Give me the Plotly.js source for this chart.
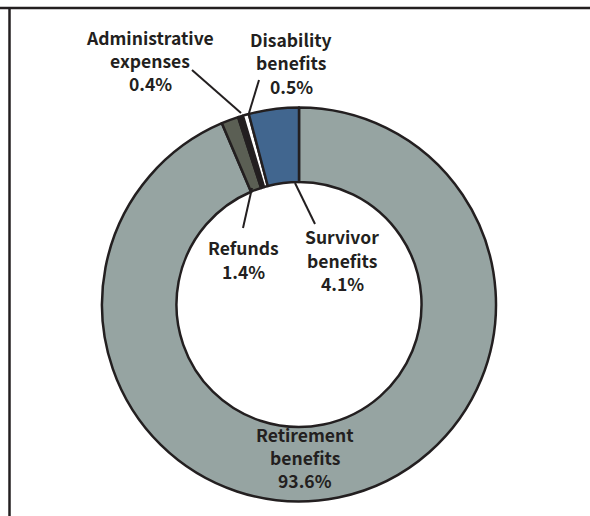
<!DOCTYPE html>
<html>
<head>
<meta charset="utf-8">
<script src="https://cdn.plot.ly/plotly-3.0.1.min.js"></script>
<style>html,body{margin:0;padding:0;background:#fff;}#chart{width:590px;height:516px;}</style>
</head>
<body>
<div id="chart"></div>
<script>
// Data (clockwise from 12 o'clock)
const categories = ["Retirement benefits", "Refunds", "Administrative expenses", "Disability benefits", "Survivor benefits"];
const labelLines = [["Retirement", "benefits"], ["Refunds"], ["Administrative", "expenses"], ["Disability", "benefits"], ["Survivor", "benefits"]];
const shares = [93.6, 1.4, 0.4, 0.5, 4.1];
const sliceColors = ["#96a4a2", "#5b5f54", "#231f20", "#ffffff", "#41668f"];

// Label positions (pixels: center x, first line y) and leader lines
const W = 590, H = 516;
const labelPos = [[305, 434], [243, 248], [150, 37], [291, 39.5], [342, 237]];
const lineStep = 23.3;
const leaders = [null, [[252, 188], [243, 228]], [[192, 70], [241, 113]], [[259, 80], [249, 113]], [[295, 183], [315, 224]]];

const px = x => x / W;
const py = y => 1 - y / H;

const trace = {
  type: "pie",
  labels: categories,
  values: shares,
  sort: false,
  direction: "clockwise",
  rotation: 0,
  hole: 0.622,
  textinfo: "none",
  hoverinfo: "none",
  marker: { colors: sliceColors, line: { color: "#231f20", width: 2.5 } },
  domain: { x: [px(299 - 197), px(299 + 197)], y: [py(502), py(107)] },
  showlegend: false
};

const annotations = [];
categories.forEach((c, i) => {
  const lines = labelLines[i].concat([shares[i].toFixed(1) + "%"]);
  lines.forEach((t, j) => {
    annotations.push({
      xref: "paper", yref: "paper",
      x: px(labelPos[i][0]), y: py(labelPos[i][1] + j * lineStep),
      xanchor: "center", yanchor: "middle",
      showarrow: false,
      text: "<b>" + t + "</b>",
      font: { family: "Noto Sans CJK SC, Noto Sans, sans-serif", size: 17.5, color: "#231f20" },
      align: "center"
    });
  });
});

const shapes = [
  { type: "line", xref: "paper", yref: "paper", x0: px(0), x1: px(590), y0: py(8), y1: py(8), line: { color: "#231f20", width: 2.5 } },
  { type: "line", xref: "paper", yref: "paper", x0: px(9.5), x1: px(9.5), y0: py(7), y1: py(516), line: { color: "#231f20", width: 2.5 } }
];
leaders.forEach(l => {
  if (!l) return;
  shapes.push({ type: "line", xref: "paper", yref: "paper", x0: px(l[0][0]), y0: py(l[0][1]), x1: px(l[1][0]), y1: py(l[1][1]), line: { color: "#231f20", width: 2 } });
});

const layout = {
  width: W, height: H,
  margin: { l: 0, r: 0, t: 0, b: 0 },
  paper_bgcolor: "#ffffff",
  plot_bgcolor: "#ffffff",
  annotations: annotations,
  shapes: shapes,
  showlegend: false
};

Plotly.newPlot("chart", [trace], layout, { displayModeBar: false, staticPlot: true });
</script>
</body>
</html>
